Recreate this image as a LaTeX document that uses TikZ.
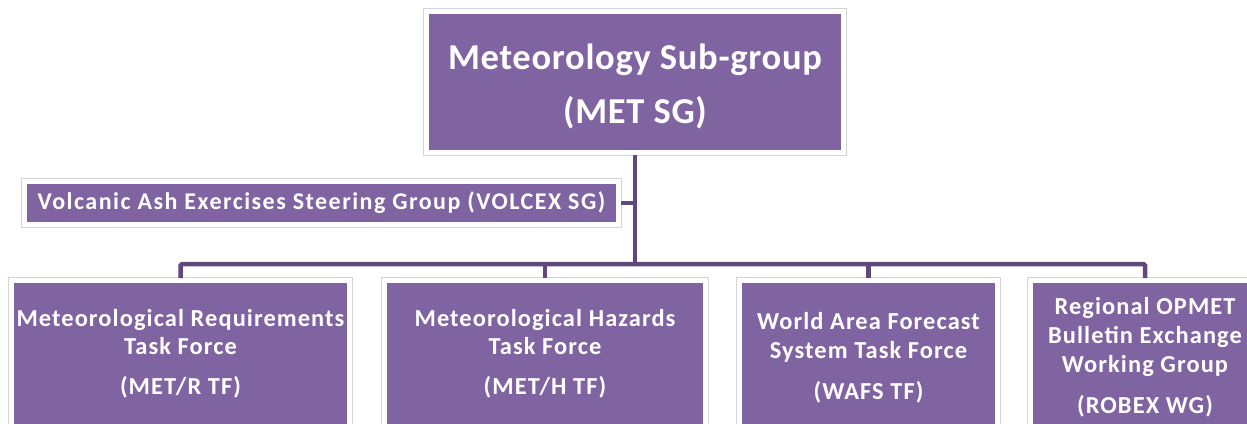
\documentclass[tikz,border=0pt]{standalone}
\usepackage{fontspec}
\setmainfont{Carlito}
\newfontfamily\titlefont[LetterSpace=2]{Carlito}
\newfontfamily\boxfont[LetterSpace=4.5]{Carlito}
\newfontfamily\volcfont[LetterSpace=6.2]{Carlito}
\definecolor{mpurple}{HTML}{8064A2}
\definecolor{mline}{HTML}{60497A}
\definecolor{mframe}{HTML}{D4D4D4}
\tikzset{
  orgbox/.style={fill=mpurple, draw=white, line width=5pt,
    preaction={draw=mframe, line width=7pt},
    minimum width=#1, inner sep=0pt, outer sep=2.5pt},
  orgtext/.style={text=white, align=center, inner sep=0pt},
  conn/.style={draw=mline, line width=4.5pt, rounded corners=1.5pt}
}
\begin{document}
\begin{tikzpicture}[x=1pt,y=-1pt]
\useasboundingbox (0,0) rectangle (1247,423);
\clip (0,0) rectangle (1247,423);
% boxes
\node[orgbox=417pt, minimum height=141pt] (top) at (635,82) {};
\node[orgbox=594pt, minimum height=43pt] (volc) at (321.5,202.5) {};
\node[orgbox=338pt, minimum height=200pt] (b1) at (180.5,380.5) {};
\node[orgbox=321pt, minimum height=200pt] (b2) at (545,380.5) {};
\node[orgbox=258pt, minimum height=200pt] (b3) at (868.5,380.5) {};
\node[orgbox=229pt, minimum height=200pt] (b4) at (1145,380.5) {};
% connectors
\coordinate (bar) at (636,264);
\coordinate (vj) at (636,203);
\draw[conn] (top.south) -- (top.south |- bar);
\draw[conn] (volc.east |- vj) -- (vj);
\draw[conn] (b1.north) -- (b1.north |- bar) -- (b4.north |- bar) -- (b4.north);
\draw[conn] (b2.north) -- (b2.north |- bar);
\draw[conn] (b3.north) -- (b3.north |- bar);
% texts
\node[orgtext, font=\titlefont\bfseries\fontsize{36.5}{54}\selectfont] (ttop) at (635,86) {Meteorology Sub-group\\(MET SG)};
\node[orgtext, font=\volcfont\bfseries\fontsize{24}{28}\selectfont] (tvolc) at (321.5,202.5) {Volcanic Ash Exercises Steering Group (VOLCEX SG)};
\node[orgtext, font=\boxfont\bfseries\fontsize{24.4}{28}\selectfont] (t1) at (180.5,353.5) {Meteorological Requirements\\Task Force\\[12pt](MET/R TF)};
\node[orgtext, font=\boxfont\bfseries\fontsize{24.4}{28}\selectfont] (t2) at (545,353.5) {Meteorological Hazards\\Task Force\\[12pt](MET/H TF)};
\node[orgtext, font=\boxfont\bfseries\fontsize{24.4}{29}\selectfont] (t3) at (868.5,357.5) {World Area Forecast\\System Task Force\\[12pt](WAFS TF)};
\node[orgtext, font=\boxfont\bfseries\fontsize{24.4}{29}\selectfont] (t4) at (1145,357) {Regional OPMET\\Bulletin Exchange\\Working Group\\[12pt](ROBEX WG)};
\end{tikzpicture}
\end{document}
